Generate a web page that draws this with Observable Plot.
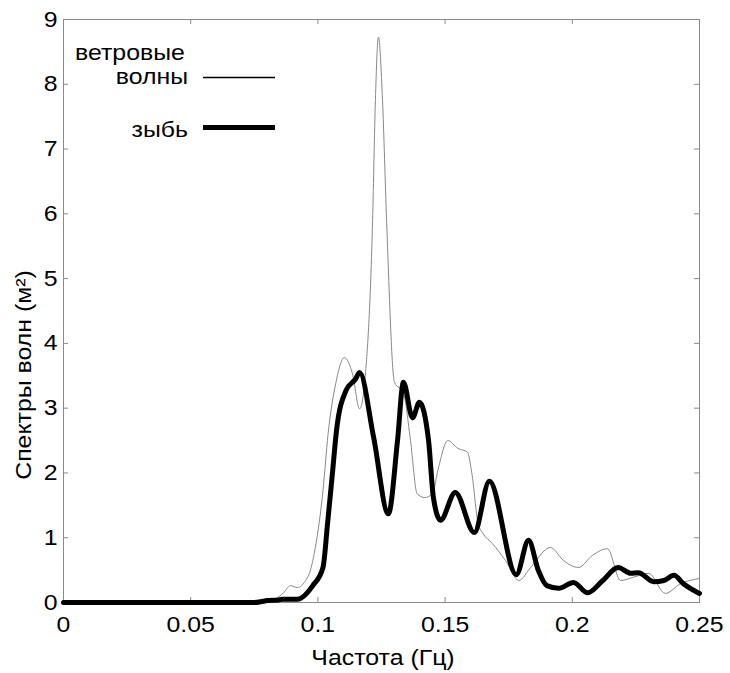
<!DOCTYPE html>
<html>
<head>
<meta charset="utf-8">
<script src="https://cdn.jsdelivr.net/npm/d3@7"></script>
<script src="https://cdn.jsdelivr.net/npm/@observablehq/plot@0.6"></script>
<style>
  html, body { margin: 0; padding: 0; background: #fff; }
  #chart svg { display: block; }
</style>
</head>
<body>
<div id="chart"></div>
<script>
// Wind waves spectrum (thin line)
const windFreq = [0, 0.075, 0.0786, 0.083, 0.0865, 0.0892, 0.092, 0.095, 0.097, 0.099, 0.102, 0.104, 0.107, 0.1104, 0.1136, 0.1164, 0.1187, 0.1215, 0.1226, 0.1238, 0.1254, 0.127, 0.1301, 0.1336, 0.1364, 0.139, 0.142, 0.145, 0.1474, 0.151, 0.155, 0.1588, 0.1605, 0.163, 0.165, 0.1686, 0.1737, 0.179, 0.1836, 0.1914, 0.1965, 0.2024, 0.208, 0.2138, 0.219, 0.224, 0.23, 0.2366, 0.2425, 0.25];
const windValue = [0, 0, 0.01, 0.05, 0.15, 0.26, 0.23, 0.33, 0.49, 0.85, 1.73, 2.6, 3.38, 3.78, 3.53, 2.99, 3.53, 5.9, 7.75, 8.73, 7.75, 5.9, 3.4, 3.24, 2.5, 1.68, 1.62, 1.68, 2.08, 2.5, 2.38, 2.32, 2.0, 1.22, 1.06, 0.91, 0.65, 0.34, 0.54, 0.85, 0.65, 0.54, 0.73, 0.83, 0.34, 0.39, 0.45, 0.14, 0.29, 0.37];

// Swell spectrum (thick line)
const swellFreq = [0, 0.075, 0.0785, 0.08, 0.0845, 0.086, 0.092, 0.098, 0.102, 0.1038, 0.1057, 0.1073, 0.111, 0.1148, 0.1164, 0.1219, 0.1277, 0.1313, 0.1336, 0.1372, 0.1399, 0.1435, 0.1454, 0.1482, 0.154, 0.1615, 0.1674, 0.178, 0.1828, 0.1867, 0.19, 0.1946, 0.2005, 0.206, 0.212, 0.218, 0.223, 0.226, 0.232, 0.236, 0.24, 0.2437, 0.25];
const swellValue = [0, 0, 0.02, 0.03, 0.04, 0.05, 0.05, 0.26, 0.54, 1.22, 1.99, 2.65, 3.27, 3.45, 3.55, 2.55, 1.37, 2.5, 3.4, 2.85, 3.09, 2.5, 1.62, 1.27, 1.7, 1.08, 1.87, 0.43, 0.96, 0.49, 0.26, 0.22, 0.31, 0.15, 0.34, 0.54, 0.45, 0.46, 0.32, 0.34, 0.42, 0.29, 0.14];

const xTicks = [0, 0.05, 0.1, 0.15, 0.2, 0.25];
const yTicks = [0, 1, 2, 3, 4, 5, 6, 7, 8, 9];
const xDomain = [0, 0.25];
const yDomain = [0, 9];

const legendLabels = [["ветровые", "волны"], ["зыбь"]];
const xLabel = "Частота (Гц)";
const yLabel = "Спектры волн (м²)";

const W = 730, H = 673;
const margin = {top: 19, right: 31, bottom: 71, left: 63};
const plotW = W - margin.left - margin.right;
const plotH = H - margin.top - margin.bottom;
const tickLen = 5;
const xTickLen = (xDomain[1] - xDomain[0]) * tickLen / plotW;
const yTickLen = (yDomain[1] - yDomain[0]) * tickLen / plotH;

const FS = 22;          // font size
const STRETCH = 1.13;   // horizontal glyph stretch of the original font

const wind = windFreq.map((f, i) => ({f, v: windValue[i]}));
const swell = swellFreq.map((f, i) => ({f, v: swellValue[i]}));

const frameColor = "#8a8a8a";
const font = "'Liberation Sans', Arial, sans-serif";

const chart = Plot.plot({
  width: W,
  height: H,
  marginTop: margin.top,
  marginRight: margin.right,
  marginBottom: margin.bottom,
  marginLeft: margin.left,
  style: {fontFamily: font, fontSize: FS + "px", color: "#000", background: "#fff"},
  x: {domain: xDomain},
  y: {domain: yDomain},
  marks: [
    // inward ticks on all four sides
    Plot.ruleX(xTicks, {x: d => d, y1: yDomain[0], y2: yDomain[0] + yTickLen, stroke: frameColor}),
    Plot.ruleX(xTicks, {x: d => d, y1: yDomain[1], y2: yDomain[1] - yTickLen, stroke: frameColor}),
    Plot.ruleY(yTicks, {y: d => d, x1: xDomain[0], x2: xDomain[0] + xTickLen, stroke: frameColor}),
    Plot.ruleY(yTicks, {y: d => d, x1: xDomain[1], x2: xDomain[1] - xTickLen, stroke: frameColor}),
    Plot.frame({stroke: frameColor}),
    Plot.axisX({ticks: xTicks, tickSize: 0, tickPadding: 14, tickFormat: d => String(d), label: null, fontSize: FS}),
    Plot.axisY({ticks: yTicks, tickSize: 0, tickPadding: 6, tickFormat: d => String(d), label: null, fontSize: FS}),
    Plot.line(wind, {x: "f", y: "v", stroke: "#888", strokeWidth: 1, curve: "monotone-x"}),
    Plot.line(swell, {x: "f", y: "v", stroke: "#000", strokeWidth: 5, curve: "monotone-x", strokeLinejoin: "round"})
  ]
});

const svgNode = chart.tagName.toLowerCase() === "svg" ? chart : chart.querySelector("svg");
const svg = d3.select(svgNode);

// stretch the tick labels horizontally about their anchor, like the original wide font
svg.selectAll("text").each(function() {
  const t = this.getAttribute("transform") || "";
  this.setAttribute("transform", (t + ` scale(${STRETCH},1)`).trim());
});

function addText(x, y, str, anchor, rotate) {
  return svg.append("text")
    .attr("transform", `translate(${x},${y})` + (rotate ? ` rotate(${rotate})` : "") + ` scale(${STRETCH},1)`)
    .attr("text-anchor", anchor)
    .attr("font-family", font).attr("font-size", FS).attr("fill", "#000")
    .text(str);
}

// axis titles
addText(31, 375, yLabel, "middle", -90);
addText(383, 665, xLabel, "middle");

// legend
addText(75, 60, legendLabels[0][0], "start");
addText(188, 84, legendLabels[0][1], "end");
svg.append("line").attr("x1", 203).attr("x2", 275).attr("y1", 77.5).attr("y2", 77.5).attr("stroke", "#000").attr("stroke-width", 1.3);
addText(188, 137, legendLabels[1][0], "end");
svg.append("line").attr("x1", 203).attr("x2", 275).attr("y1", 127.5).attr("y2", 127.5).attr("stroke", "#000").attr("stroke-width", 5);

document.getElementById("chart").appendChild(chart);
</script>
</body>
</html>
